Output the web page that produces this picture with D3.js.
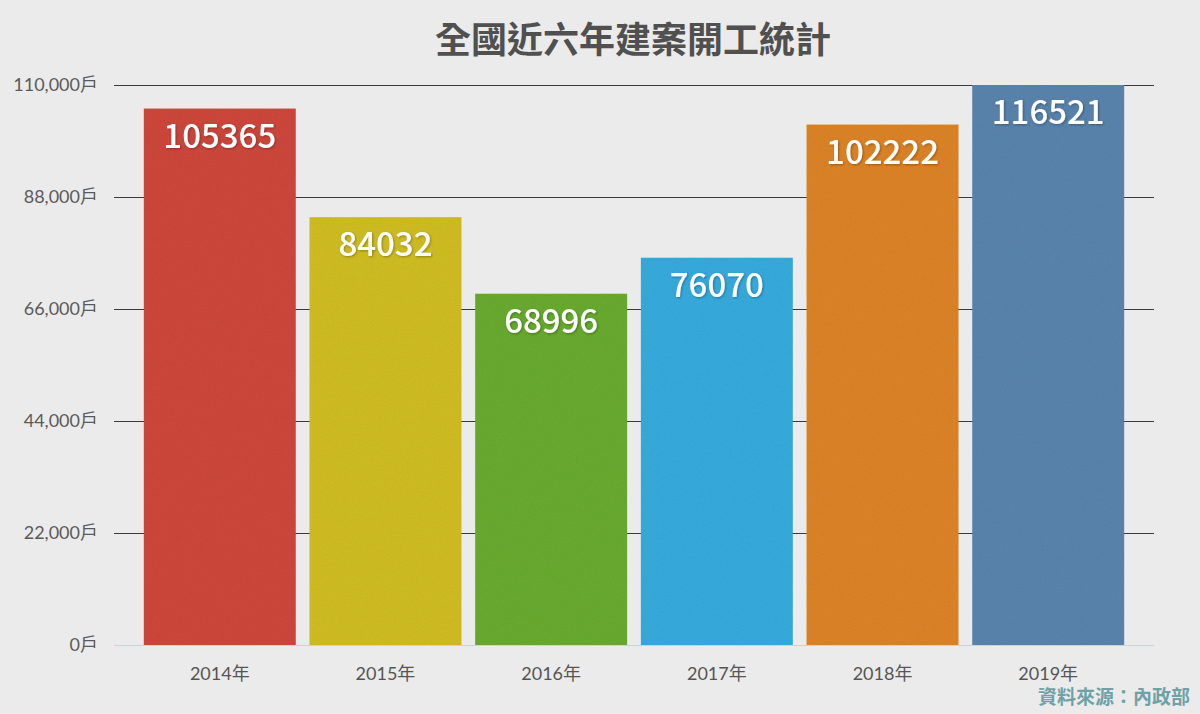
<!doctype html>
<html lang="zh-Hant">
<head>
<meta charset="utf-8">
<title>全國近六年建案開工統計</title>
<script src="https://cdnjs.cloudflare.com/ajax/libs/d3/7.8.5/d3.min.js"></script>
<style>
  body { margin: 0; background: #ebebeb; }
  svg { display: block; }
</style>
</head>
<body>
<svg width="1200" height="714" id="svg"></svg>
<script>
  var years = ['2014年', '2015年', '2016年', '2017年', '2018年', '2019年'];
  var starts = [105365, 84032, 68996, 76070, 102222, 116521];
  var colors = ['#d04a3d', '#d3c026', '#6aad30', '#38ade0', '#df8529', '#5c86af'];
  var yTicks = [0, 22000, 44000, 66000, 88000, 110000];

  var svg = d3.select('#svg');
  var plotLeft = 114, plotRight = 1154, plotTop = 85, plotBottom = 645;

  var defs = svg.append('defs');
  var grain = defs.append('filter').attr('id', 'grain')
    .attr('x', 0).attr('y', 0).attr('width', 1).attr('height', 1);
  grain.append('feTurbulence').attr('type', 'fractalNoise')
    .attr('baseFrequency', 0.9).attr('numOctaves', 2).attr('result', 'noise');
  grain.append('feColorMatrix').attr('in', 'noise').attr('type', 'matrix')
    .attr('values', '0 0 0 0 0  0 0 0 0 0  0 0 0 0 0  0 0 0 0.15 0').attr('result', 'dots');
  grain.append('feComposite').attr('in', 'dots').attr('in2', 'SourceGraphic')
    .attr('operator', 'in').attr('result', 'dotsIn');
  var merge = grain.append('feMerge');
  merge.append('feMergeNode').attr('in', 'SourceGraphic');
  merge.append('feMergeNode').attr('in', 'dotsIn');

  var shadow = defs.append('filter').attr('id', 'tshadow');
  shadow.append('feDropShadow').attr('dx', 1).attr('dy', 1)
    .attr('stdDeviation', 1).attr('flood-color', '#000').attr('flood-opacity', 0.3);

  defs.append('clipPath').attr('id', 'plot')
    .append('rect').attr('x', plotLeft).attr('y', plotTop)
    .attr('width', plotRight - plotLeft).attr('height', plotBottom - plotTop);

  var x = d3.scaleBand().domain(years).range([plotLeft, plotRight])
    .paddingInner(0.083).paddingOuter(0.18);
  var y = d3.scaleLinear().domain([0, 110000]).range([plotBottom, plotTop]);

  // title
  svg.append('text')
    .attr('x', 633).attr('y', 53)
    .attr('text-anchor', 'middle')
    .style('font-family', '"Noto Sans CJK TC", sans-serif')
    .style('font-weight', 'bold')
    .style('font-size', '36px')
    .style('fill', '#505050')
    .text('全國近六年建案開工統計');

  // gridlines
  var yAxis = svg.append('g')
    .attr('transform', 'translate(' + plotLeft + ',0)')
    .call(d3.axisLeft(y).tickValues(yTicks).tickSize(-(plotRight - plotLeft)).tickPadding(16)
      .tickFormat(function(d) { return d3.format(',')(d) + '戶'; }));
  yAxis.select('.domain').remove();
  yAxis.selectAll('.tick line')
    .attr('stroke', function(d) { return d === 0 ? '#9ee9d9' : '#3a3a3a'; })
    .attr('stroke-width', 1);
  yAxis.selectAll('.tick text')
    .style('font-family', 'Lato, "Noto Sans CJK TC", sans-serif')
    .style('font-size', '18px')
    .style('fill', '#5a5a5a');

  // bars
  var bars = svg.append('g').attr('clip-path', 'url(#plot)');
  bars.selectAll('rect')
    .data(starts)
    .enter()
    .append('rect')
    .attr('x', function(d, i) { return x(years[i]); })
    .attr('width', x.bandwidth())
    .attr('y', function(d) { return y(d); })
    .attr('height', function(d) { return plotBottom - y(d); })
    .attr('fill', function(d, i) { return colors[i]; })
    .attr('filter', 'url(#grain)');

  // value labels
  svg.append('g').selectAll('text')
    .data(starts)
    .enter()
    .append('text')
    .attr('x', function(d, i) { return x(years[i]) + x.bandwidth() / 2; })
    .attr('y', function(d) { return Math.max(y(d), plotTop) + 39; })
    .attr('text-anchor', 'middle')
    .attr('filter', 'url(#tshadow)')
    .style('font-family', '"Noto Sans CJK TC", sans-serif')
    .style('font-weight', 500)
    .style('font-size', '33px')
    .style('fill', '#ffffff')
    .text(function(d) { return d; });

  // x labels
  var xAxis = svg.append('g')
    .attr('transform', 'translate(0,' + plotBottom + ')')
    .call(d3.axisBottom(x).tickSize(0).tickPadding(22));
  xAxis.select('.domain').remove();
  xAxis.selectAll('.tick text')
    .style('font-family', 'Lato, "Noto Sans CJK TC", sans-serif')
    .style('font-size', '18px')
    .style('fill', '#555');

  // source
  svg.append('text')
    .attr('x', 1190).attr('y', 704)
    .attr('text-anchor', 'end')
    .style('font-family', '"Noto Sans CJK TC", sans-serif')
    .style('font-weight', 'bold')
    .style('font-size', '19px')
    .style('fill', '#6ea2a8')
    .text('資料來源：內政部');
</script>
</body>
</html>
